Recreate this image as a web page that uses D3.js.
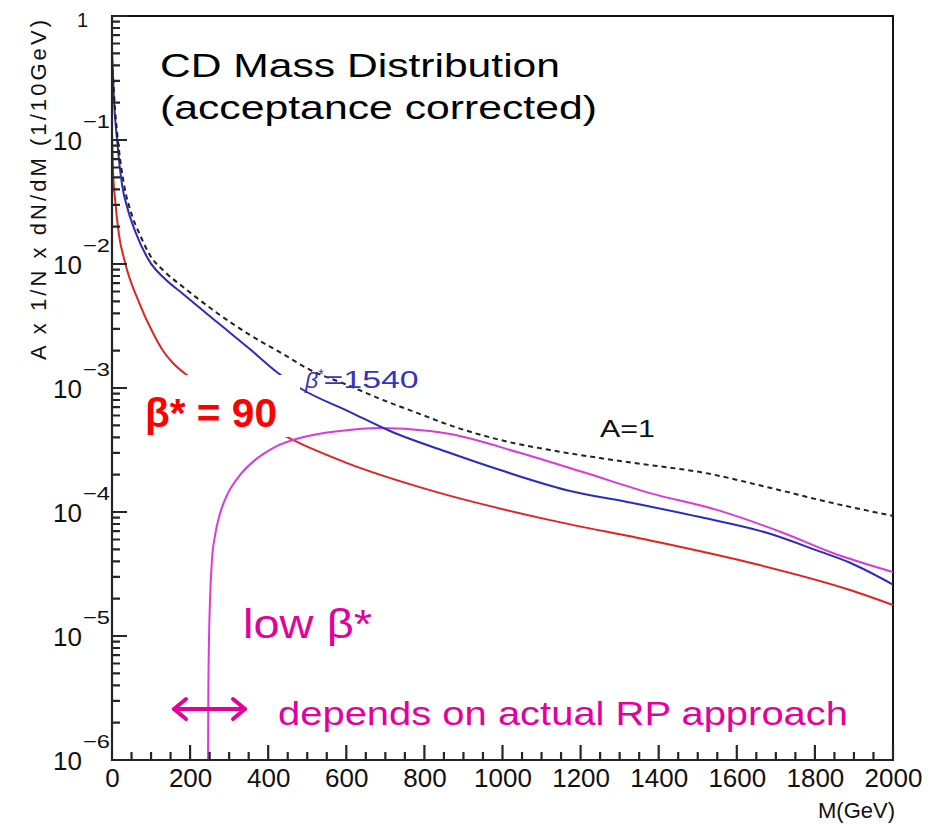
<!DOCTYPE html>
<html>
<head>
<meta charset="utf-8">
<script src="https://cdn.jsdelivr.net/npm/d3@7"></script>
<style>
  body { margin: 0; background: #fff; }
  text { font-family: "Liberation Sans", Arial, sans-serif; }
</style>
</head>
<body>
<svg></svg>
<script>
// Chart size and plot frame
const width = 946, height = 825;
const margin = { left: 112, right: 53, top: 16, bottom: 65 };

// Curves: [M (GeV), A x 1/N x dN/dM]
const aOne = [[0, 0.44], [8, 0.175], [18, 0.083], [31, 0.0434], [51, 0.0248], [72, 0.0171], [97, 0.0118],
  [136, 0.0086], [182, 0.00653], [269, 0.00403], [353, 0.00268], [438, 0.00188], [507, 0.0014],
  [602, 0.00106], [694, 8.0e-4], [781, 6.3e-4], [866, 5.0e-4], [994, 3.81e-4], [1122, 3.16e-4],
  [1250, 2.72e-4], [1378, 2.39e-4], [1506, 2.1e-4], [1677, 1.59e-4], [1846, 1.18e-4], [2000, 9.3e-5]];
const beta1540 = [[0, 0.53], [5, 0.21], [13, 0.10], [26, 0.043], [41, 0.0272], [61, 0.0178], [97, 0.0104],
  [136, 0.00757], [182, 0.00573], [269, 0.0034], [353, 0.00206], [425, 0.00132], [481, 0.001],
  [610, 6.4e-4], [712, 4.5e-4], [866, 2.99e-4], [994, 2.18e-4], [1165, 1.5e-4], [1334, 1.18e-4],
  [1506, 9.1e-5], [1677, 6.8e-5], [1805, 4.9e-5], [1890, 3.9e-5], [2000, 2.6e-5]];
const beta90 = [[0, 0.11], [2.6, 0.057], [8, 0.033], [18, 0.0171], [33, 0.0104], [72, 0.00467],
  [105, 0.00278], [131, 0.00199], [156, 0.00159], [192, 0.00127], [225, 0.00108], [310, 7.2e-4],
  [463, 3.81e-4], [602, 2.48e-4], [814, 1.5e-4], [1122, 8.6e-5], [1378, 5.9e-5], [1634, 3.9e-5],
  [1890, 2.35e-5], [2000, 1.78e-5]];
const lowBeta = [[245.5, 5e-7], [246.6, 3.05e-6], [248.4, 9.3e-6], [251, 1.95e-5], [256, 4.1e-5],
  [264, 6.5e-5], [277, 9.8e-5], [297, 1.42e-4], [328, 1.99e-4], [366, 2.62e-4], [417, 3.34e-4],
  [481, 3.95e-4], [584, 4.5e-4], [686, 4.75e-4], [814, 4.5e-4], [866, 4.25e-4], [1037, 3.05e-4],
  [1206, 2.1e-4], [1378, 1.42e-4], [1549, 1.04e-4], [1718, 6.8e-5], [1846, 4.67e-5], [2000, 3.28e-5]];

// Axis ticks
const xMajor = [0, 200, 400, 600, 800, 1000, 1200, 1400, 1600, 1800, 2000];
const yDecades = [1, 1e-1, 1e-2, 1e-3, 1e-4, 1e-5, 1e-6];
const yExponents = ["", "\u22121", "\u22122", "\u22123", "\u22124", "\u22125", "\u22126"];

const svg = d3.select('svg')
    .attr('width', width)
    .attr('height', height);

const x = d3.scaleLinear().domain([0, 2000]).range([margin.left, width - margin.right]);
const y = d3.scaleLog().domain([1e-6, 1]).range([height - margin.bottom, margin.top]);
const x0 = x(0), x1 = x(2000), y0 = y(1e-6), y1 = y(1);

// Clip curves to the frame
svg.append('defs').append('clipPath').attr('id', 'plot')
  .append('rect')
    .attr('x', x0).attr('y', y1)
    .attr('width', x1 - x0).attr('height', y0 - y1);

// Frame
svg.append('rect')
    .attr('x', x0).attr('y', y1)
    .attr('width', x1 - x0).attr('height', y0 - y1)
    .attr('fill', 'none').attr('stroke', '#111').attr('stroke-width', 2);

// X tick labels
svg.append('g').attr('transform', `translate(0,${y0})`)
    .call(d3.axisBottom(x).tickValues(xMajor).tickSize(0).tickPadding(9).tickFormat(d3.format('d')))
    .call(g => g.select('.domain').remove())
    .selectAll('text')
    .style('font-size', '26px').attr('fill', '#111');

// Y tick labels: 1, 10^-1 ... 10^-6
const yLab = svg.append('g').attr('fill', '#111');
yDecades.forEach((d, i) => {
  if (i === 0) {
    yLab.append('text').attr('x', 88).attr('y', y(d) + 11)
        .attr('text-anchor', 'end').style('font-size', '20px').text('1');
    return;
  }
  yLab.append('text').attr('x', 82).attr('y', y(d) + 10)
      .attr('text-anchor', 'end').style('font-size', '26px').text('10');
  yLab.append('text').attr('x', 83).attr('y', y(d) - 12)
      .attr('textLength', 27).attr('lengthAdjust', 'spacingAndGlyphs')
      .style('font-size', '19px').text(yExponents[i]);
});

// Axis titles
svg.append('text')
    .attr('transform', 'translate(46,190) rotate(-90)')
    .attr('text-anchor', 'middle')
    .attr('textLength', 340)
    .style('font-size', '22px').attr('fill', '#111')
    .text('A x 1/N x dN/dM (1/10GeV)');
svg.append('text')
    .attr('x', 895).attr('y', 818)
    .attr('text-anchor', 'end')
    .style('font-size', '22px').attr('fill', '#111')
    .text('M(GeV)');

// Curves
const line = d3.line()
    .x(d => x(d[0]))
    .y(d => y(d[1]))
    .curve(d3.curveMonotoneX);

const curves = svg.append('g').attr('clip-path', 'url(#plot)').attr('fill', 'none');
curves.append('path').datum(beta90).attr('d', line).attr('stroke', '#e02424').attr('stroke-width', 2);
curves.append('path').datum(lowBeta).attr('d', line).attr('stroke', '#d93ad9').attr('stroke-width', 2);
curves.append('path').datum(beta1540).attr('d', line).attr('stroke', '#2b2bc4').attr('stroke-width', 2);
curves.append('path').datum(aOne).attr('d', line).attr('stroke', '#222')
    .attr('stroke-width', 2).attr('stroke-dasharray', '5,4');

// Annotations
svg.append('text').attr('x', 160).attr('y', 77)
    .attr('textLength', 400).attr('lengthAdjust', 'spacingAndGlyphs')
    .style('font-size', '34px').attr('fill', '#000')
    .text('CD Mass Distribution');
svg.append('text').attr('x', 160).attr('y', 119)
    .attr('textLength', 437).attr('lengthAdjust', 'spacingAndGlyphs')
    .style('font-size', '34px').attr('fill', '#000')
    .text('(acceptance corrected)');

// beta* = 90 label on a white patch
svg.append('rect').attr('x', 128).attr('y', 375).attr('width', 172).attr('height', 62).attr('fill', '#fff');
svg.append('text').attr('x', 145).attr('y', 427)
    .attr('textLength', 132).attr('lengthAdjust', 'spacingAndGlyphs')
    .style('font-size', '40px').style('font-weight', 'bold').attr('fill', '#ff0000')
    .text('\u03b2* = 90');

const b1540 = svg.append('text').attr('x', 305).attr('y', 388)
    .attr('fill', '#3434c0').style('font-size', '23px');
b1540.append('tspan').style('font-style', 'italic').text('\u03b2');
b1540.append('tspan').attr('dy', -9).style('font-size', '14px').text('*');
b1540.append('tspan').attr('dy', 9).attr('textLength', 95).attr('lengthAdjust', 'spacingAndGlyphs').text('=1540');

svg.append('text').attr('x', 600).attr('y', 437)
    .attr('textLength', 55).attr('lengthAdjust', 'spacingAndGlyphs')
    .style('font-size', '24px').attr('fill', '#111')
    .text('A=1');

svg.append('text').attr('x', 243).attr('y', 638)
    .attr('textLength', 129).attr('lengthAdjust', 'spacingAndGlyphs')
    .style('font-size', '40px').attr('fill', '#e4009c')
    .text('low  \u03b2*');

svg.append('text').attr('x', 278).attr('y', 725)
    .attr('textLength', 570).attr('lengthAdjust', 'spacingAndGlyphs')
    .style('font-size', '34px').attr('fill', '#e4009c')
    .text('depends on actual RP approach');

// Double arrow
const arr = svg.append('g').attr('stroke', '#e4009c').attr('stroke-width', 4)
    .attr('fill', 'none').attr('stroke-linecap', 'round').attr('stroke-linejoin', 'round');
arr.append('line').attr('x1', 174).attr('y1', 709).attr('x2', 245).attr('y2', 709);
arr.append('path').attr('d', 'M186,699 L174,709 L186,719');
arr.append('path').attr('d', 'M233,699 L245,709 L233,719');

// Axes drawn last: one path holding the axis lines and all inward ticks
const xMinor = d3.range(0, 2001, 50).filter(v => v % 200 !== 0);
const yMinor = [];
yDecades.slice(1).forEach(d => [2, 3, 4, 5, 6, 7, 8, 9].forEach(k => yMinor.push(d * k)));

const axisPath = [
  `M${x0},${y1}V${y0}H${x1}`,
  ...xMinor.map(v => `M${x(v).toFixed(2)},${y0}V${y0 - 8}`),
  ...xMajor.map(v => `M${x(v).toFixed(2)},${y0}V${y0 - 15}`),
  ...yMinor.map(v => `M${x0},${y(v).toFixed(2)}H${x0 + 8}`),
  ...yDecades.map(v => `M${x0},${y(v).toFixed(2)}H${x0 + 15}`)
].join('');
svg.append('path').attr('d', axisPath)
    .attr('fill', 'none').attr('stroke', '#262626').attr('stroke-width', 2.2);
</script>
</body>
</html>
